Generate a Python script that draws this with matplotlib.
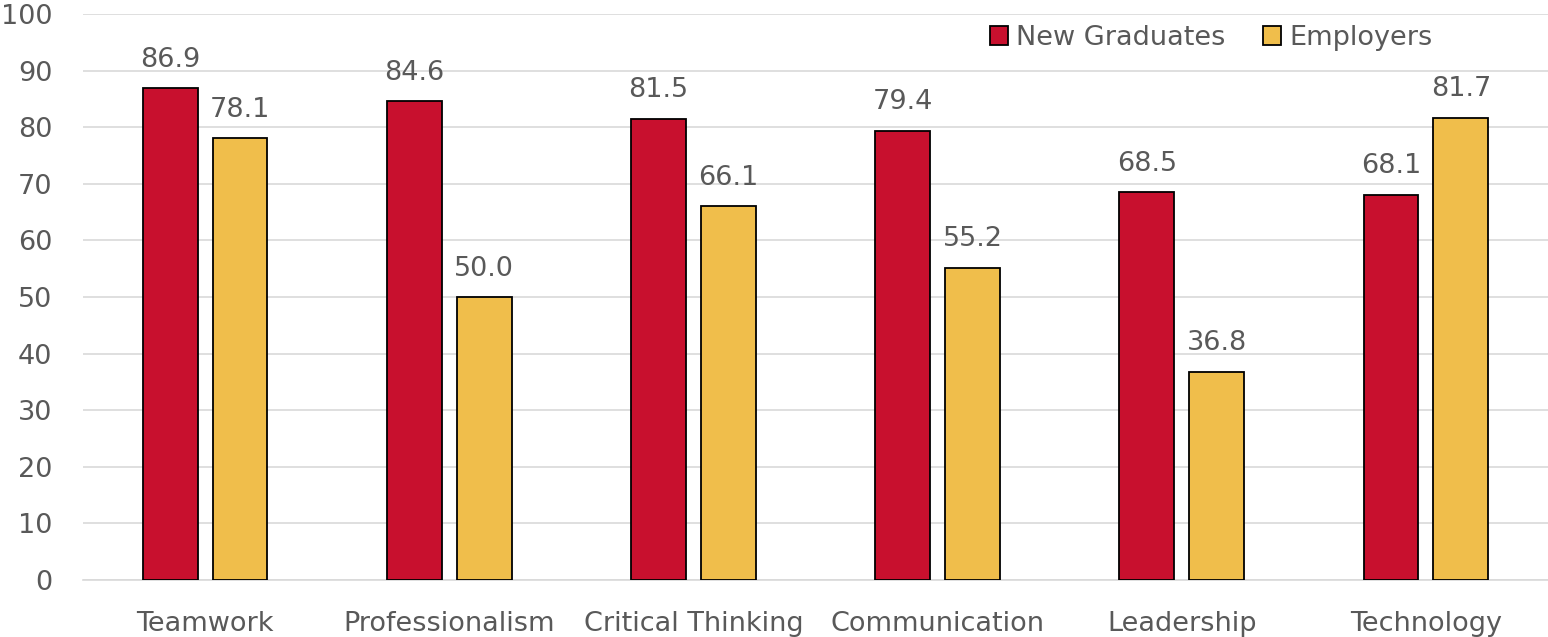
import numpy as np
import matplotlib.pyplot as plt

categories = ['Teamwork', 'Professionalism', 'Critical Thinking', 'Communication', 'Leadership', 'Technology']
new_grads = [86.9, 84.6, 81.5, 79.4, 68.5, 68.1]
employers = [78.1, 50.0, 66.1, 55.2, 36.8, 81.7]

plt.rcParams['font.family'] = ['DejaVu Sans']
txt = '#595959'
fs = 19.5

fig = plt.figure(figsize=(15.48, 6.37), dpi=100)
ax = fig.add_axes([0.0536, 0.0895, 0.9464, 0.8885])

x = np.arange(len(categories))
w = 0.225
off = 0.143
b1 = ax.bar(x - off, new_grads, w, color='#C8102E', edgecolor='black', linewidth=1.3, label='New Graduates', zorder=3)
b2 = ax.bar(x + off, employers, w, color='#F0BE4B', edgecolor='black', linewidth=1.3, label='Employers', zorder=3)
ax.bar_label(b1, fmt='%.1f', padding=11, fontsize=fs, color=txt)
ax.bar_label(b2, fmt='%.1f', padding=11, fontsize=fs, color=txt)

ax.set_xlim(-0.5, len(categories) - 0.5)
ax.set_ylim(0, 100)
ax.set_yticks(np.arange(0, 101, 10))
ax.set_xticks(x, categories)
ax.tick_params(axis='both', length=0, labelsize=fs, labelcolor=txt)
ax.tick_params(axis='x', pad=22)
ax.tick_params(axis='y', pad=22)
ax.grid(axis='y', color='#D9D9D9', linewidth=1.2, zorder=0)
for s in ['top', 'right', 'left']:
    ax.spines[s].set_visible(False)
ax.spines['bottom'].set_color('#D9D9D9')
ax.spines['bottom'].set_linewidth(1.2)

ax.legend(loc='center right', bbox_to_anchor=(0.921, 0.9576), ncol=2, frameon=False, fontsize=fs,
          labelcolor=txt, handlelength=0.65, handleheight=0.65, handletextpad=0.3, columnspacing=1.4,
          borderaxespad=0, borderpad=0)

fig.savefig('out.png', dpi=100)
